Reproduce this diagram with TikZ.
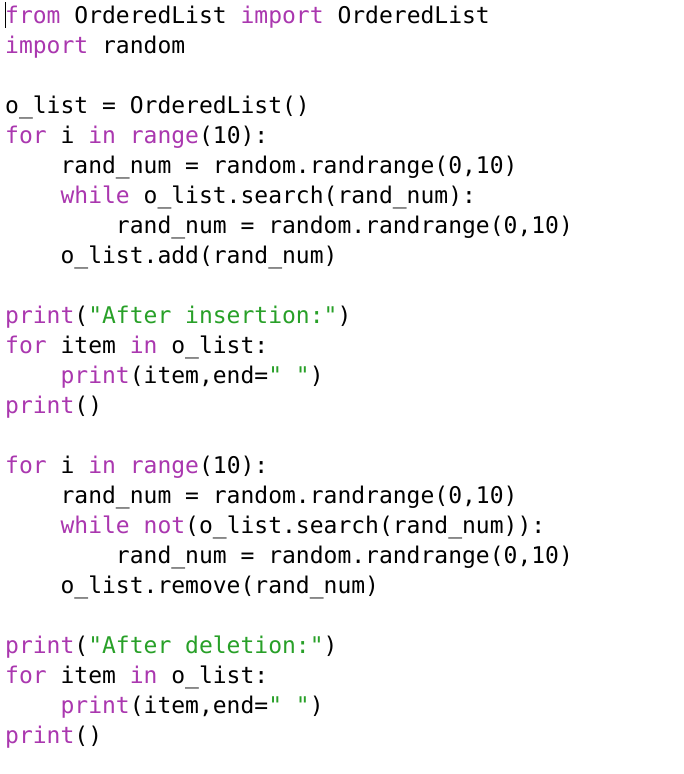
\documentclass[tikz,border=0pt]{standalone}
\usepackage{fontspec}
\newfontfamily\codefont{DejaVu Sans Mono}
\definecolor{kwc}{RGB}{170,55,175}
\definecolor{stc}{RGB}{40,160,40}
\newcommand{\kw}[1]{\textcolor{kwc}{#1}}
\newcommand{\st}[1]{\textcolor{stc}{#1}}
\newcommand{\ind}{\phantom{xxxx}}
\begin{document}
\begin{tikzpicture}[x=1pt,y=-1pt,codeline/.style={anchor=base west,inner sep=0pt,font=\codefont\fontsize{23}{23}\selectfont}]
\useasboundingbox[fill=white] (0,0) rectangle (684,774);
\draw[line width=1pt] (5,2) -- (5,28);
\node[codeline] (l1) at (5,23) {\kw{from} OrderedList \kw{import} OrderedList};
\node[codeline] (l2) at (5,53) {\kw{import} random};
\node[codeline] (l4) at (5,113) {o\_list = OrderedList()};
\node[codeline] (l5) at (5,143) {\kw{for} i \kw{in} \kw{range}(10):};
\node[codeline] (l6) at (5,173) {\ind rand\_num = random.randrange(0,10)};
\node[codeline] (l7) at (5,203) {\ind\kw{while} o\_list.search(rand\_num):};
\node[codeline] (l8) at (5,233) {\ind\ind rand\_num = random.randrange(0,10)};
\node[codeline] (l9) at (5,263) {\ind o\_list.add(rand\_num)};
\node[codeline] (l11) at (5,323) {\kw{print}(\st{"After insertion:"})};
\node[codeline] (l12) at (5,353) {\kw{for} item \kw{in} o\_list:};
\node[codeline] (l13) at (5,383) {\ind\kw{print}(item,end=\st{" "})};
\node[codeline] (l14) at (5,413) {\kw{print}()};
\node[codeline] (l16) at (5,473) {\kw{for} i \kw{in} \kw{range}(10):};
\node[codeline] (l17) at (5,503) {\ind rand\_num = random.randrange(0,10)};
\node[codeline] (l18) at (5,533) {\ind\kw{while} \kw{not}(o\_list.search(rand\_num)):};
\node[codeline] (l19) at (5,563) {\ind\ind rand\_num = random.randrange(0,10)};
\node[codeline] (l20) at (5,593) {\ind o\_list.remove(rand\_num)};
\node[codeline] (l22) at (5,653) {\kw{print}(\st{"After deletion:"})};
\node[codeline] (l23) at (5,683) {\kw{for} item \kw{in} o\_list:};
\node[codeline] (l24) at (5,713) {\ind\kw{print}(item,end=\st{" "})};
\node[codeline] (l25) at (5,743) {\kw{print}()};
\end{tikzpicture}
\end{document}
